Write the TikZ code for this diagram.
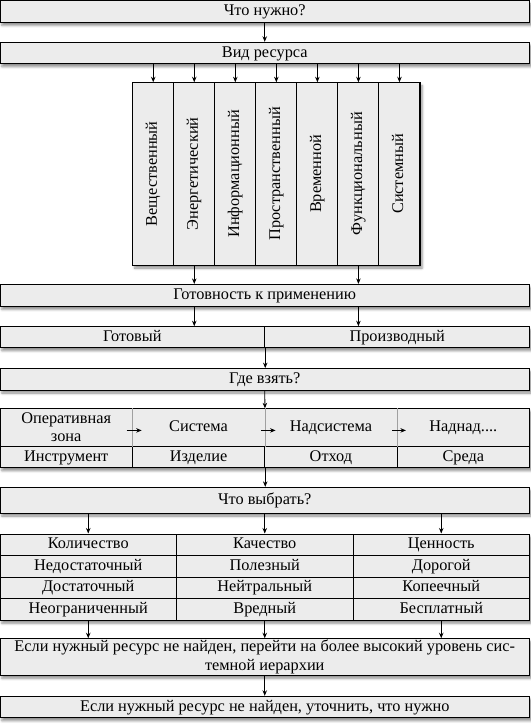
\documentclass[tikz,border=0pt]{standalone}
\usepackage{fontspec}
\setmainfont{Liberation Serif}
\usepackage{graphicx}
\usetikzlibrary{arrows.meta,shadows.blur}
\definecolor{boxfill}{HTML}{ECECEC}
\definecolor{softline}{HTML}{A0A0A0}

\begin{document}
\begin{tikzpicture}[x=1pt, y=-1pt, >={Stealth[length=5.5pt,width=4.5pt]},
    font=\fontsize{16.3}{18.5}\selectfont,
    shade/.style={blur shadow={shadow xshift=2pt, shadow yshift=-3pt,
                  shadow blur radius=2.5pt, shadow opacity=45}},
    txt/.style={text height=11.5pt, text depth=3.5pt},
    box/.style={draw, line width=1pt, fill=boxfill, shade, inner sep=0pt,
                minimum width=529.5pt, minimum height=21.4pt},
    back/.style={draw, line width=1pt, fill=boxfill, shade},
    cell/.style={draw, line width=1pt, inner sep=0pt, minimum height=21.5pt},
    topcell/.style={inner sep=0pt, minimum width=132.375pt,
                    minimum height=37.8pt, align=center},
    arr/.style={->, line width=0.8pt}]
  \useasboundingbox (0,0) rectangle (530,725);

  % top boxes
  \node[box, txt] (need) at (264.75,11.7) {Что нужно?};
  \node[box, txt] (kind) at (264.75,53) {Вид ресурса};

  % kinds of resource
  \coordinate (kindtl) at (132.7,82.7);
  \coordinate (kindbr) at (420,265.05);
  \draw[back] (kindtl) rectangle (kindbr);
  \foreach \t [count=\i] in {Вещественный, Энергетический, Информационный,
      Пространственный, Временной, Функциональный, Системный}
    \node[cell, minimum width=41.04pt, minimum height=182.3pt] (c\i)
      at ({132.7+41.04*(\i-0.5)},173.9) {\rotatebox{90}{\strut\t}};

  \node[box, txt, minimum height=22pt] (ready) at (264.75,295.4) {Готовность к применению};
  \coordinate (readytl) at (0,326.7);
  \coordinate (readybr) at (529.5,347.7);
  \draw[back] (readytl) rectangle (readybr);
  \node[cell, txt, minimum width=264.75pt, minimum height=21pt] (got) at (132.375,337.2) {Готовый};
  \node[cell, txt, minimum width=264.75pt, minimum height=21pt] (deriv) at (397.125,337.2) {Производный};

  \node[box, txt] (where) at (264.75,379.3) {Где взять?};

  % where to take it
  \coordinate (wheretl) at (0,408.5);
  \coordinate (wherebr) at (529.5,467.7);
  \draw[back] (wheretl) rectangle (wherebr);
  \node[topcell] (zone) at (66.19,427.4) {Оперативная\\зона};
  \node[topcell, txt] (sys) at (198.56,427.4) {Система};
  \node[topcell, txt] (super) at (330.94,427.4) {Надсистема};
  \node[topcell, txt] (supsup) at (463.31,427.4) {Наднад....};
  \node[cell, txt, minimum width=132.375pt, minimum height=21.4pt] (tool) at (66.19,457) {Инструмент};
  \node[cell, txt, minimum width=132.375pt, minimum height=21.4pt] (item) at (198.56,457) {Изделие};
  \node[cell, txt, minimum width=132.375pt, minimum height=21.4pt] (waste) at (330.94,457) {Отход};
  \node[cell, txt, minimum width=132.375pt, minimum height=21.4pt] (env) at (463.31,457) {Среда};
  \foreach \n in {zone,sys,super}
    \draw[softline, line width=0.8pt] (\n.north east) -- (\n.south east);
  \draw[arr] ([xshift=-6pt,yshift=-3pt]zone.east) -- ([xshift=9.5pt,yshift=-3pt]sys.west);
  \draw[arr] ([xshift=-4pt,yshift=-3pt]sys.east) -- ([xshift=11pt,yshift=-3pt]super.west);
  \draw[arr] ([xshift=-5pt,yshift=-3pt]super.east) -- ([xshift=9pt,yshift=-3pt]supsup.west);

  \node[box, txt, minimum height=25.7pt] (choose) at (264.75,500.2) {Что выбрать?};

  % what to choose
  \coordinate (choosetl) at (0,534);
  \coordinate (choosebr) at (529.5,620.2);
  \draw[back] (choosetl) rectangle (choosebr);
  \foreach \a/\b/\c [count=\r] in {Количество/Качество/Ценность,
      Недостаточный/Полезный/Дорогой, Достаточный/Нейтральный/Копеечный,
      Неограниченный/Вредный/Бесплатный} {
    \node[cell, txt, minimum width=176.5pt, minimum height=21.55pt] (qa\r)
      at (88.25,{534+21.55*(\r-0.5)}) {\a};
    \node[cell, txt, minimum width=176.5pt, minimum height=21.55pt] (qb\r)
      at (264.75,{534+21.55*(\r-0.5)}) {\b};
    \node[cell, txt, minimum width=176.5pt, minimum height=21.55pt] (qc\r)
      at (441.25,{534+21.55*(\r-0.5)}) {\c};
  }

  \node[box, minimum height=36.5pt, align=center] (far) at (264.75,657)
    {Если нужный ресурс не найден, перейти на более высокий уровень сис-\\темной иерархии};
  \node[box, txt] (last) at (264.75,707) {Если нужный ресурс не найден, уточнить, что нужно};

  % arrows
  \draw[arr] (need) -- (kind);
  \foreach \i in {1,...,7}
    \draw[arr] (kind.south -| c\i) -- (c\i.north);
  \foreach \i in {2,6} {
    \draw[arr] (c\i.south) -- (ready.north -| c\i);
    \draw[arr] (ready.south -| c\i) -- (got.north -| c\i);
  }
  \draw[arr] (got.south east) -- (where.north -| got.south east);
  \draw[arr] (where.south) -- (sys.north east);
  \draw[arr] (item.south east) -- (choose.north -| item.south east);
  \foreach \k in {qa,qb,qc} {
    \draw[arr] (choose.south -| \k1) -- (\k1.north);
    \draw[arr] (\k4.south) -- (far.north -| \k4);
  }
  \draw[arr] (far) -- (last);
\end{tikzpicture}
\end{document}
